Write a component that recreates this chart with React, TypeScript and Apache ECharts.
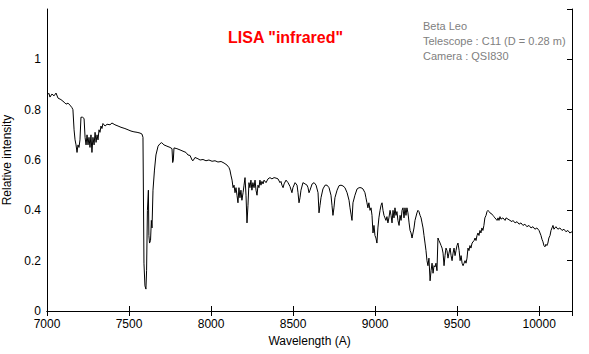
import React, { useEffect, useRef } from "react";
import * as echarts from "echarts";

const wavelengths: number[] = [
  7000, 7012, 7018, 7030, 7043, 7055, 7067, 7085, 7104, 7116, 7128, 7140, 7152, 7158, 7165, 7171, 7177, 7183, 7189, 7195,
  7201, 7207, 7216, 7226, 7232, 7238, 7244, 7250, 7256, 7262, 7268, 7274, 7280, 7287, 7293, 7299, 7305, 7311, 7317, 7323,
  7329, 7335, 7341, 7354, 7366, 7384, 7396, 7414, 7433, 7451, 7475, 7494, 7512, 7530, 7549, 7567, 7579, 7585, 7591, 7597,
  7603, 7607, 7612, 7618, 7621, 7625, 7631, 7636, 7640, 7646, 7655, 7664, 7677, 7689, 7699, 7713, 7731, 7750, 7762, 7766,
  7770, 7774, 7792, 7811, 7829, 7847, 7859, 7872, 7884, 7890, 7902, 7920, 7933, 7951, 7969, 7987, 8006, 8024, 8042, 8061,
  8079, 8097, 8109, 8115, 8121, 8128, 8134, 8140, 8146, 8152, 8158, 8164, 8170, 8176, 8182, 8188, 8195, 8201, 8207, 8213,
  8219, 8225, 8231, 8237, 8243, 8249, 8255, 8262, 8268, 8274, 8280, 8286, 8292, 8298, 8304, 8310, 8317, 8323, 8335, 8347,
  8359, 8371, 8384, 8396, 8408, 8420, 8426, 8432, 8439, 8445, 8457, 8469, 8481, 8493, 8499, 8512, 8524, 8530, 8536, 8542,
  8548, 8560, 8573, 8585, 8591, 8597, 8603, 8616, 8628, 8640, 8652, 8658, 8664, 8670, 8682, 8695, 8707, 8719, 8731, 8737,
  8743, 8749, 8755, 8768, 8780, 8792, 8804, 8816, 8829, 8841, 8847, 8853, 8859, 8865, 8877, 8890, 8902, 8914, 8926, 8938,
  8944, 8950, 8956, 8962, 8969, 8975, 8981, 8987, 8993, 8999, 9005, 9011, 9017, 9023, 9030, 9036, 9042, 9048, 9054, 9060,
  9066, 9072, 9078, 9084, 9091, 9097, 9103, 9109, 9115, 9121, 9127, 9133, 9139, 9146, 9152, 9158, 9164, 9170, 9176, 9182,
  9188, 9194, 9200, 9207, 9213, 9219, 9225, 9231, 9237, 9243, 9255, 9261, 9267, 9274, 9280, 9286, 9292, 9298, 9304, 9310,
  9316, 9322, 9328, 9335, 9341, 9347, 9353, 9359, 9365, 9371, 9377, 9383, 9389, 9396, 9402, 9408, 9414, 9420, 9426, 9432,
  9438, 9444, 9450, 9457, 9463, 9469, 9475, 9481, 9487, 9493, 9499, 9505, 9512, 9518, 9524, 9530, 9536, 9542, 9548, 9554,
  9560, 9566, 9572, 9578, 9584, 9591, 9603, 9609, 9615, 9621, 9627, 9633, 9639, 9645, 9651, 9657, 9663, 9669, 9676, 9682,
  9688, 9694, 9700, 9712, 9718, 9724, 9730, 9737, 9743, 9749, 9755, 9761, 9767, 9779, 9792, 9798, 9810, 9822, 9834, 9840,
  9853, 9865, 9877, 9889, 9901, 9913, 9925, 9938, 9950, 9962, 9974, 9986, 9999, 10005, 10011, 10017, 10023, 10029, 10035, 10041,
  10047, 10053, 10059, 10066, 10072, 10078, 10084, 10090, 10102, 10114, 10126, 10139, 10151, 10163, 10175, 10187, 10200,
];

const intensities: number[] = [
  0.858, 0.865, 0.85, 0.862, 0.855, 0.866, 0.846, 0.84, 0.83, 0.822, 0.826, 0.818, 0.808, 0.8, 0.72, 0.68, 0.66, 0.63, 0.66, 0.65,
  0.68, 0.77, 0.77, 0.765, 0.69, 0.66, 0.7, 0.66, 0.69, 0.65, 0.7, 0.63, 0.69, 0.66, 0.71, 0.67, 0.7, 0.68, 0.72, 0.71,
  0.735, 0.725, 0.745, 0.735, 0.742, 0.74, 0.747, 0.74, 0.735, 0.73, 0.725, 0.72, 0.715, 0.712, 0.71, 0.707, 0.703, 0.69, 0.19, 0.1,
  0.087, 0.16, 0.4, 0.48, 0.3, 0.27, 0.28, 0.36, 0.33, 0.48, 0.56, 0.62, 0.655, 0.665, 0.669, 0.66, 0.655, 0.65, 0.645, 0.59,
  0.6, 0.648, 0.645, 0.64, 0.635, 0.63, 0.62, 0.618, 0.6, 0.597, 0.61, 0.605, 0.6, 0.602, 0.597, 0.6, 0.595, 0.597, 0.592, 0.594,
  0.588, 0.58, 0.57, 0.56, 0.54, 0.52, 0.49, 0.5, 0.47, 0.49, 0.46, 0.43, 0.49, 0.45, 0.48, 0.44, 0.47, 0.5, 0.53, 0.46,
  0.35, 0.42, 0.51, 0.49, 0.52, 0.48, 0.51, 0.49, 0.52, 0.48, 0.46, 0.5, 0.49, 0.52, 0.5, 0.515, 0.505, 0.52, 0.51, 0.525,
  0.53, 0.525, 0.53, 0.528, 0.525, 0.51, 0.515, 0.5, 0.49, 0.505, 0.52, 0.51, 0.495, 0.47, 0.49, 0.51, 0.5, 0.47, 0.43, 0.45,
  0.48, 0.51, 0.505, 0.5, 0.49, 0.47, 0.48, 0.505, 0.51, 0.5, 0.47, 0.39, 0.42, 0.45, 0.485, 0.5, 0.5, 0.49, 0.46, 0.42,
  0.38, 0.41, 0.45, 0.48, 0.498, 0.5, 0.497, 0.49, 0.47, 0.44, 0.41, 0.385, 0.36, 0.43, 0.46, 0.485, 0.49, 0.49, 0.485, 0.47,
  0.45, 0.43, 0.41, 0.43, 0.4, 0.41, 0.38, 0.31, 0.34, 0.3, 0.29, 0.27, 0.33, 0.37, 0.4, 0.42, 0.43, 0.4, 0.38, 0.37,
  0.36, 0.375, 0.35, 0.37, 0.4, 0.38, 0.35, 0.4, 0.37, 0.41, 0.38, 0.395, 0.36, 0.34, 0.38, 0.36, 0.4, 0.41, 0.37, 0.41,
  0.38, 0.41, 0.39, 0.35, 0.32, 0.31, 0.29, 0.31, 0.33, 0.36, 0.39, 0.4, 0.395, 0.38, 0.37, 0.35, 0.33, 0.3, 0.27, 0.24,
  0.2, 0.18, 0.21, 0.12, 0.16, 0.19, 0.15, 0.18, 0.175, 0.19, 0.16, 0.29, 0.28, 0.27, 0.26, 0.25, 0.23, 0.18, 0.22, 0.25,
  0.24, 0.21, 0.23, 0.25, 0.22, 0.2, 0.23, 0.25, 0.22, 0.24, 0.26, 0.27, 0.24, 0.2, 0.22, 0.19, 0.18, 0.19, 0.2, 0.19,
  0.21, 0.25, 0.24, 0.26, 0.25, 0.27, 0.28, 0.29, 0.28, 0.3, 0.31, 0.3, 0.32, 0.31, 0.33, 0.32, 0.34, 0.37, 0.38, 0.395,
  0.4, 0.395, 0.39, 0.385, 0.38, 0.375, 0.37, 0.365, 0.36, 0.37, 0.36, 0.375, 0.365, 0.37, 0.36, 0.37, 0.365, 0.36, 0.355, 0.36,
  0.35, 0.355, 0.345, 0.35, 0.34, 0.345, 0.335, 0.34, 0.33, 0.335, 0.325, 0.33, 0.32, 0.31, 0.3, 0.285, 0.275, 0.26, 0.255, 0.265,
  0.26, 0.27, 0.29, 0.3, 0.32, 0.33, 0.34, 0.325, 0.335, 0.325, 0.33, 0.32, 0.325, 0.315, 0.32, 0.31, 0.315,
];

const titleText = 'LISA "infrared"';
const infoLines: string[] = ["Beta Leo", "Telescope : C11 (D = 0.28 m)", "Camera : QSI830"];
const xAxisName = "Wavelength (A)";
const yAxisName = "Relative intensity";

export default function App() {
  const ref = useRef<HTMLDivElement>(null);

  useEffect(() => {
    if (!ref.current) return;
    const chart = echarts.init(ref.current, null, { renderer: "svg" });
    const data = wavelengths.map((w, i) => [w, intensities[i]]);
    const font = "'Liberation Sans', Arial, sans-serif";
    const axisLine = { show: true, lineStyle: { color: "#000", width: 1 } };
    chart.setOption({
      animation: false,
      backgroundColor: "#fff",
      textStyle: { fontFamily: font },
      title: {
        text: titleText,
        left: 228,
        top: 29,
        padding: 0,
        textStyle: { color: "#ff0000", fontSize: 16, fontWeight: "bold", fontFamily: font },
      },
      graphic: infoLines.map((t, i) => ({
        type: "text",
        left: 423,
        top: 20 + i * 15,
        style: { text: t, fill: "#808080", fontSize: 11, fontFamily: font },
      })),
      grid: { left: 47, right: 17, top: 9, bottom: 43, containLabel: false, outerBoundsMode: "none" },
      xAxis: [
        {
          type: "value",
          min: 7000,
          max: 10200,
          interval: 500,
          position: "bottom",
          name: xAxisName,
          nameLocation: "middle",
          nameGap: 23,
          nameTextStyle: { color: "#000", fontSize: 12, fontFamily: font },
          axisLine,
          axisTick: { show: true, inside: true, length: 5, lineStyle: { color: "#000" } },
          axisLabel: {
            color: "#000",
            fontSize: 12,
            margin: 7,
            showMaxLabel: false,
            fontFamily: font,
            formatter: (v: number) => String(v),
          },
          splitLine: { show: false },
        },
        {
          type: "value",
          min: 7000,
          max: 10200,
          interval: 500,
          position: "top",
          axisLine,
          axisTick: { show: true, inside: true, length: 5, lineStyle: { color: "#000" } },
          axisLabel: { show: false },
          splitLine: { show: false },
        },
      ],
      yAxis: [
        {
          type: "value",
          min: 0,
          max: 1.2,
          interval: 0.2,
          position: "left",
          name: yAxisName,
          nameLocation: "middle",
          nameGap: 29,
          nameTextStyle: { color: "#000", fontSize: 12, fontFamily: font },
          axisLine,
          axisTick: { show: false },
          axisLabel: {
            color: "#000",
            fontSize: 12,
            margin: 6,
            showMaxLabel: false,
            fontFamily: font,
            formatter: (v: number) => String(Math.round(v * 10) / 10),
          },
          splitLine: { show: false },
        },
        {
          type: "value",
          min: 0,
          max: 1.2,
          interval: 0.2,
          position: "right",
          axisLine,
          axisTick: { show: true, inside: true, length: 5, lineStyle: { color: "#000" } },
          axisLabel: { show: false },
          splitLine: { show: false },
        },
      ],
      series: [
        {
          type: "line",
          data,
          xAxisIndex: 0,
          yAxisIndex: 0,
          showSymbol: false,
          symbol: "none",
          lineStyle: { color: "#000", width: 1 },
          silent: true,
        },
      ],
    });
    return () => chart.dispose();
  }, []);

  return (
    <div
      ref={ref}
      style={{ position: "fixed", left: 0, top: 0, width: 589, height: 354, background: "#fff" }}
    />
  );
}
